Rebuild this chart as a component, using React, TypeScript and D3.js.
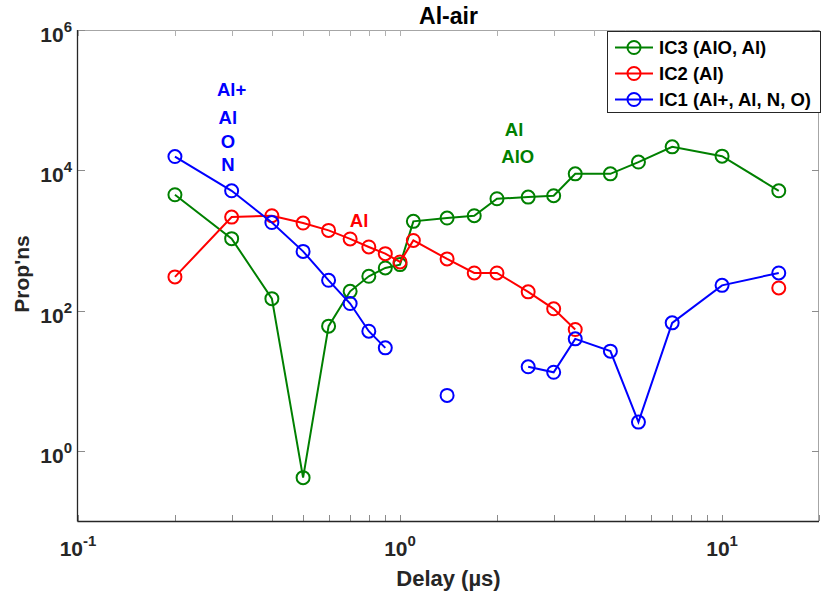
import * as d3 from 'd3';
import { useEffect, useRef } from 'react';

// delay (µs) for every measurement
const delays = [0.2, 0.3, 0.4, 0.5, 0.6, 0.7, 0.8, 0.9, 1.0, 1.1, 1.4, 1.7, 2.0, 2.5, 3.0, 3.5, 4.5, 5.5, 7, 10, 15];
// proportions per component (NaN = no value)
const ic3 = [4480, 1060, 148, 0.415, 60, 188, 308, 405, 452, 1870, 2085, 2250, 3930, 4150, 4340, 8900, 8900, 13100, 21600, 15900, 5100];
const ic2 = [302, 2150, 2250, 1770, 1390, 1050, 807, 648, 493, 1000, 545, 344, 344, 185, 106, 53.7, NaN, NaN, NaN, NaN, 210];
const ic1 = [15700, 5100, 1800, 698, 270, 126, 50.8, 29.4, NaN, NaN, 6.17, NaN, NaN, 15.8, 13.2, 39.5, 26.4, 2.57, 66.8, 229, 344];

const seriesNames = ['IC3 (AlO, Al)', 'IC2 (Al)', 'IC1 (Al+, Al, N, O)'];
const seriesColors = ['#008000', '#ff0000', '#0000ff'];

const xTickExps = [-1, 0, 1];
const yTickExps = [0, 2, 4, 6];

// species labels placed in data coordinates
const notes: [string, number, number, number][] = [
  ['Al+', 0.3, 1.15e5, 2],
  ['Al', 0.292, 4.6e4, 2],
  ['O', 0.292, 2.09e4, 2],
  ['N', 0.292, 9840, 2],
  ['Al', 0.746, 1570, 1],
  ['Al', 2.26, 3.1e4, 0],
  ['AlO', 2.32, 1.28e4, 0],
];

const App = () => {
  const svgRef = useRef<any>();
  const width = 823;
  const height = 592;
  const left = 78;
  const right = 819;
  const top = 30;
  const bottom = 521;
  const font = "Arial, 'Liberation Sans', sans-serif";

  useEffect(() => {
    const svg = d3.select(svgRef.current);
    svg.selectAll('*').remove();

    const x = d3.scaleLog().domain([0.1, 20]).range([left, right]);
    const y = d3.scaleLog().domain([0.1, 1e6]).range([bottom, top]);

    svg.append('rect').attr('width', width).attr('height', height).attr('fill', '#fff');

    // frame
    svg.append('line').attr('x1', left).attr('x2', right).attr('y1', top + 0.5).attr('y2', top + 0.5).attr('stroke', '#a6a6a6');
    svg.append('line').attr('x1', right - 0.5).attr('x2', right - 0.5).attr('y1', top).attr('y2', bottom).attr('stroke', '#a6a6a6');

    // x ticks (log minor included)
    const xt = x.ticks();
    xt.forEach((t) => {
      const px = Math.round(x(t)) + 0.5;
      svg.append('line').attr('x1', px).attr('x2', px).attr('y1', bottom).attr('y2', bottom - 6).attr('stroke', '#8c8c8c');
      svg.append('line').attr('x1', px).attr('x2', px).attr('y1', top).attr('y2', top + 6).attr('stroke', '#b0b0b0');
    });
    yTickExps.forEach((e) => {
      const py = Math.round(y(Math.pow(10, e))) + 0.5;
      svg.append('line').attr('x1', left).attr('x2', left + 7).attr('y1', py).attr('y2', py).attr('stroke', '#8c8c8c');
      svg.append('line').attr('x1', right).attr('x2', right - 7).attr('y1', py).attr('y2', py).attr('stroke', '#8c8c8c');
    });

    svg.append('line').attr('x1', left - 0.5).attr('x2', left - 0.5).attr('y1', top).attr('y2', bottom + 0.5).attr('stroke', '#262626').attr('stroke-width', 1.3);
    svg.append('line').attr('x1', left - 0.5).attr('x2', right).attr('y1', bottom + 0.5).attr('y2', bottom + 0.5).attr('stroke', '#262626').attr('stroke-width', 1.3);

    // tick labels
    xTickExps.forEach((e) => {
      const t = svg
        .append('text')
        .attr('x', x(Math.pow(10, e)))
        .attr('y', 556)
        .attr('text-anchor', 'middle')
        .attr('font-family', font)
        .attr('font-weight', 'bold')
        .attr('font-size', 21)
        .attr('fill', '#262626');
      t.append('tspan').text('10');
      t.append('tspan').attr('dy', -10).attr('font-size', 15).text(String(e));
    });
    yTickExps.forEach((e) => {
      const t = svg
        .append('text')
        .attr('x', 72)
        .attr('y', y(Math.pow(10, e)) + 12)
        .attr('text-anchor', 'end')
        .attr('font-family', font)
        .attr('font-weight', 'bold')
        .attr('font-size', 21)
        .attr('fill', '#262626');
      t.append('tspan').text('10');
      t.append('tspan').attr('dy', -10).attr('font-size', 15).text(String(e));
    });

    // axis labels and title
    svg.append('text').attr('x', (left + right) / 2).attr('y', 586).attr('text-anchor', 'middle')
      .attr('font-family', font).attr('font-weight', 'bold').attr('font-size', 22).attr('fill', '#262626').text('Delay (µs)');
    svg.append('text').attr('transform', 'translate(29,274) rotate(-90)').attr('text-anchor', 'middle')
      .attr('font-family', font).attr('font-weight', 'bold').attr('font-size', 21).attr('fill', '#262626').text("Prop'ns");
    svg.append('text').attr('x', (left + right) / 2).attr('y', 24).attr('text-anchor', 'middle')
      .attr('font-family', font).attr('font-weight', 'bold').attr('font-size', 23).attr('fill', '#000').text('Al-air');

    // series
    const allSeries = [ic3, ic2, ic1];
    const line = d3
      .line<[number, number]>()
      .defined((d) => !isNaN(d[1]))
      .x((d) => x(d[0]))
      .y((d) => y(d[1]));

    const plot = svg.append('g');
    allSeries.forEach((vals, i) => {
      const pts = delays.map((d, j) => [d, vals[j]] as [number, number]);
      plot.append('path').attr('d', line(pts)).attr('fill', 'none').attr('stroke', seriesColors[i]).attr('stroke-width', 2);
      plot
        .selectAll(null)
        .data(pts.filter((p) => !isNaN(p[1])))
        .enter()
        .append('circle')
        .attr('cx', (d) => x(d[0]))
        .attr('cy', (d) => y(d[1]))
        .attr('r', 6.5)
        .attr('fill', 'none')
        .attr('stroke', seriesColors[i])
        .attr('stroke-width', 2);
    });

    // species notes
    notes.forEach(([txt, nx, ny, ci]) => {
      svg.append('text').attr('x', x(nx)).attr('y', y(ny)).attr('text-anchor', 'middle')
        .attr('font-family', font).attr('font-weight', 'bold').attr('font-size', 18.5).attr('fill', seriesColors[ci]).text(txt);
    });

    // legend
    const lg = svg.append('g');
    lg.append('rect').attr('x', 607.5).attr('y', 31.5).attr('width', 213).attr('height', 81).attr('fill', '#fff').attr('stroke', '#262626');
    seriesNames.forEach((name, i) => {
      const ly = 47.5 + i * 26;
      lg.append('line').attr('x1', 615).attr('x2', 653).attr('y1', ly).attr('y2', ly).attr('stroke', seriesColors[i]).attr('stroke-width', 2);
      lg.append('circle').attr('cx', 634).attr('cy', ly).attr('r', 6.5).attr('fill', 'none').attr('stroke', seriesColors[i]).attr('stroke-width', 2);
      lg.append('text').attr('x', 659).attr('y', ly + 6.5).attr('font-family', font).attr('font-weight', 'bold')
        .attr('font-size', 18.5).attr('fill', '#000').text(name);
    });
  }, []);

  return (
    <svg
      ref={svgRef}
      width={width}
      height={height}
      style={{ position: 'absolute', left: 0, top: 0, display: 'block' }}
    />
  );
};

export default App;
